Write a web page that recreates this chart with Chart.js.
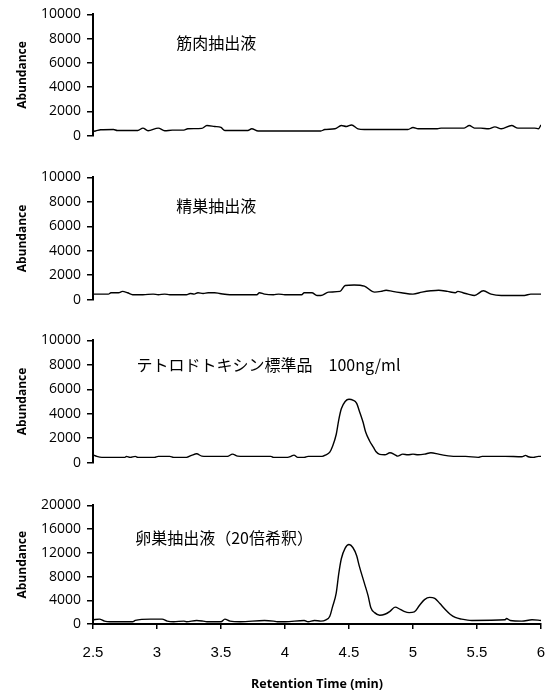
<!DOCTYPE html>
<html lang="ja">
<head>
<meta charset="UTF-8">
<title>TTX chromatograms</title>
<script src="https://cdn.jsdelivr.net/npm/chart.js@4.4.0/dist/chart.umd.min.js"></script>
<style>
  body { margin: 0; background: #fff; }
  #wrap { position: relative; width: 551px; height: 697px; }
  canvas { position: absolute; left: 0; }
</style>
</head>
<body>
<div id="wrap">
  <canvas id="c1" width="551" height="150" style="top:0px"></canvas>
  <canvas id="c2" width="551" height="151" style="top:163px"></canvas>
  <canvas id="c3" width="551" height="151" style="top:326px"></canvas>
  <canvas id="c4" width="551" height="206" style="top:491px"></canvas>
</div>
<script>
// retention time (min) and abundance
const muscleTime = [2.50, 2.52, 2.56, 2.66, 2.69, 2.85, 2.89, 2.93, 3.01, 3.06, 3.12, 3.21, 3.24, 3.35, 3.39, 3.45,
  3.50, 3.53, 3.71, 3.74, 3.79, 4.28, 4.31, 4.39, 4.44, 4.48, 4.52, 4.57, 4.62, 4.96, 5.00, 5.04,
  5.19, 5.22, 5.40, 5.44, 5.48, 5.53, 5.59, 5.64, 5.69, 5.77, 5.82, 5.95, 5.98, 6.00];
const muscleAbund = [350, 380, 480, 500, 420, 420, 620, 400, 620, 400, 450, 450, 560, 600, 830, 750,
  670, 420, 420, 560, 380, 380, 500, 560, 830, 750, 880, 560, 500, 500, 670, 560,
  560, 620, 620, 830, 620, 620, 560, 720, 560, 830, 620, 620, 560, 880];

const testisTime = [2.50, 2.62, 2.64, 2.70, 2.73, 2.77, 2.81, 2.89, 2.97, 3.01, 3.06, 3.10, 3.23, 3.26, 3.29, 3.32,
  3.36, 3.40, 3.45, 3.49, 3.57, 3.78, 3.80, 3.84, 3.91, 3.95, 4.00, 4.13, 4.15, 4.21, 4.25, 4.28,
  4.34, 4.43, 4.47, 4.54, 4.62, 4.70, 4.75, 4.79, 4.84, 4.91, 5.00, 5.07, 5.14, 5.20, 5.27, 5.33,
  5.35, 5.39, 5.43, 5.48, 5.55, 5.61, 5.69, 5.87, 5.92, 6.00];
const testisAbund = [450, 450, 560, 560, 670, 560, 400, 400, 450, 400, 450, 400, 400, 500, 450, 560,
  500, 560, 560, 500, 400, 400, 560, 450, 400, 450, 400, 400, 560, 560, 340, 340,
  610, 670, 1150, 1200, 1100, 610, 670, 770, 670, 560, 450, 610, 720, 770, 670, 560,
  670, 560, 450, 340, 720, 450, 340, 340, 450, 450];

const standardTime = [2.50, 2.53, 2.57, 2.75, 2.76, 2.79, 2.83, 2.85, 2.98, 3.01, 3.10, 3.13, 3.23, 3.27, 3.31, 3.35,
  3.39, 3.55, 3.59, 3.63, 3.68, 3.89, 3.91, 4.02, 4.05, 4.07, 4.10, 4.15, 4.18, 4.29, 4.32, 4.35,
  4.37, 4.40, 4.42, 4.44, 4.47, 4.50, 4.53, 4.56, 4.58, 4.61, 4.63, 4.66, 4.69, 4.71, 4.74, 4.78,
  4.82, 4.86, 4.88, 4.92, 4.96, 5.00, 5.04, 5.09, 5.14, 5.20, 5.25, 5.33, 5.41, 5.51, 5.54, 5.72,
  5.85, 5.88, 5.90, 5.94, 5.98, 6.00];
const standardAbund = [640, 510, 430, 430, 510, 430, 510, 430, 430, 510, 510, 430, 430, 590, 720, 530,
  510, 510, 690, 530, 510, 510, 430, 430, 530, 610, 430, 430, 510, 510, 640, 850,
  1300, 2300, 3500, 4400, 5000, 5180, 5120, 4850, 4250, 3300, 2500, 1790, 1260, 910, 670, 640,
  800, 640, 530, 690, 640, 690, 640, 690, 800, 690, 590, 510, 510, 430, 510, 510,
  480, 590, 480, 430, 510, 510];

const ovaryTime = [2.50, 2.55, 2.59, 2.63, 2.81, 2.83, 2.95, 3.04, 3.08, 3.13, 3.21, 3.23, 3.31, 3.36, 3.39, 3.50,
  3.53, 3.57, 3.65, 3.84, 3.91, 3.94, 4.00, 4.15, 4.18, 4.23, 4.28, 4.32, 4.35, 4.37, 4.40, 4.42,
  4.44, 4.47, 4.50, 4.53, 4.56, 4.58, 4.62, 4.65, 4.67, 4.70, 4.74, 4.78, 4.82, 4.86, 4.90, 4.93,
  4.97, 5.01, 5.05, 5.09, 5.13, 5.17, 5.21, 5.25, 5.29, 5.33, 5.38, 5.46, 5.72, 5.73, 5.76, 5.85,
  5.93, 6.00];
const ovaryAbund = [710, 820, 490, 380, 380, 600, 820, 820, 490, 380, 490, 380, 600, 490, 380, 380,
  820, 490, 380, 600, 490, 380, 380, 600, 380, 600, 490, 710, 1300, 2800, 5200, 8500,
  11000, 12800, 13400, 12900, 11500, 9800, 6900, 4700, 2800, 1920, 1480, 1640, 2140, 2850, 2470, 2140,
  1920, 2030, 3120, 4110, 4490, 4330, 3450, 2470, 1640, 1100, 820, 600, 710, 930, 600, 490,
  710, 600];

const sampleNames = ['筋肉抽出液', '精巣抽出液', 'テトロドトキシン標準品　100ng/ml', '卵巣抽出液（20倍希釈）'];
const timeTicks = [2.5, 3, 3.5, 4, 4.5, 5, 5.5, 6];

Chart.defaults.font.family = "'Open Sans', sans-serif";
Chart.defaults.color = '#000';

// draws the sample name inside the plot, anchored at a (time, abundance) spot
const sampleLabel = {
  id: 'sampleLabel',
  afterDatasetsDraw(chart, args, opts) {
    const { ctx, scales } = chart;
    ctx.save();
    ctx.font = '16px "Noto Sans CJK JP"';
    ctx.fillStyle = '#000';
    ctx.textBaseline = 'middle';
    ctx.fillText(opts.text, scales.x.getPixelForValue(opts.t), scales.y.getPixelForValue(opts.v));
    ctx.restore();
  }
};

function makePanel(id, times, values, yMax, yStep, name, at, showX) {
  new Chart(document.getElementById(id), {
    type: 'line',
    data: {
      datasets: [{
        data: times.map((t, i) => ({ x: t, y: values[i] })),
        borderColor: '#000',
        borderWidth: 1.4,
        pointRadius: 0,
        cubicInterpolationMode: 'monotone'
      }]
    },
    options: {
      responsive: false,
      animation: false,
      devicePixelRatio: 1,
      layout: { padding: { top: 13, right: 10, bottom: showX ? 0 : 13, left: 0 } },
      plugins: {
        legend: { display: false },
        tooltip: { enabled: false },
        sampleLabel: { text: name, t: at[0], v: at[1] }
      },
      scales: {
        x: {
          type: 'linear',
          min: 2.5,
          max: 6,
          display: showX,
          afterFit: s => {
            if (showX) s.height = 73;
            s.paddingLeft = 0;
            s.paddingRight = 0;
          },
          afterBuildTicks: s => { s.ticks = timeTicks.map(v => ({ value: v })); },
          grid: { drawOnChartArea: false, drawTicks: true, tickLength: 5, color: '#000', lineWidth: 1.5 },
          border: { display: true, color: '#000', width: 2 },
          ticks: {
            padding: 15,
            autoSkip: false,
            maxRotation: 0,
            callback: v => String(v),
            font: { family: "'Liberation Sans', Arial, sans-serif", size: 15 }
          },
          title: {
            display: true,
            text: 'Retention Time (min)',
            font: { size: 12.5, weight: 'bold' },
            padding: { top: 0, bottom: 5 }
          }
        },
        y: {
          min: 0,
          max: yMax,
          afterFit: s => { s.width = 93; },
          grid: { drawOnChartArea: false, drawTicks: true, tickLength: 6, color: '#000', lineWidth: 1.5 },
          border: { display: true, color: '#000', width: 2 },
          ticks: {
            stepSize: yStep,
            padding: 6,
            autoSkip: false,
            callback: v => String(v),
            font: { size: 14 }
          },
          title: {
            display: true,
            text: 'Abundance',
            font: { size: 12, weight: 'bold' },
            padding: { top: 15, bottom: 0 }
          }
        }
      }
    },
    plugins: [sampleLabel]
  });
}

makePanel('c1', muscleTime, muscleAbund, 10000, 2000, sampleNames[0], [3.15, 7650], false);
makePanel('c2', testisTime, testisAbund, 10000, 2000, sampleNames[1], [3.15, 7700], false);
makePanel('c3', standardTime, standardAbund, 10000, 2000, sampleNames[2], [2.84, 8000], false);
makePanel('c4', ovaryTime, ovaryAbund, 20000, 4000, sampleNames[3], [2.83, 14500], true);
</script>
</body>
</html>
